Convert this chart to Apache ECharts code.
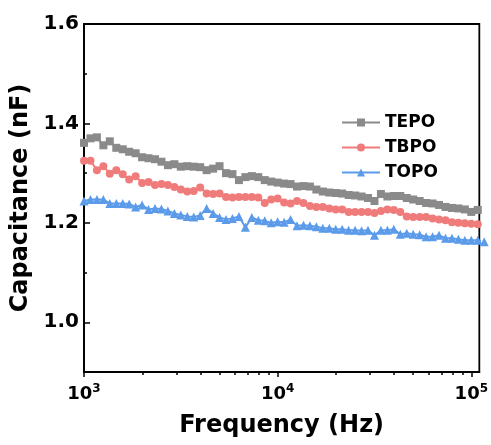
<!DOCTYPE html>
<html><head><meta charset="utf-8">
<script src="https://cdn.jsdelivr.net/npm/echarts@6/dist/echarts.min.js"></script>
<style>html,body{margin:0;padding:0;background:#fff}#c{width:491px;height:445px}</style>
</head><body><div id="c"></div>
<script>
const freq = [1000,1080,1166,1259,1359,1468,1585,1711,1848,1995,2154,2326,2512,2712,2929,3162,3415,3687,3981,4299,4642,5012,5412,5843,6310,6813,7356,7943,8577,9261,10000,10798,11659,12589,13594,14678,15849,17113,18478,19953,21544,23263,25119,27123,29286,31623,34145,36869,39811,42987,46416,50119,54117,58434,63096,68129,73564,79433,85770,92612,100000,107980,116590];
const tepo = [1.361,1.370,1.372,1.356,1.364,1.351,1.348,1.343,1.340,1.332,1.330,1.328,1.323,1.316,1.318,1.313,1.314,1.313,1.312,1.306,1.309,1.314,1.300,1.298,1.286,1.292,1.294,1.292,1.286,1.283,1.281,1.279,1.278,1.273,1.274,1.273,1.267,1.263,1.261,1.260,1.259,1.256,1.255,1.253,1.250,1.244,1.258,1.253,1.254,1.254,1.250,1.247,1.244,1.240,1.239,1.236,1.232,1.230,1.229,1.227,1.222,1.226];
const tbpo = [1.325,1.325,1.306,1.314,1.299,1.306,1.298,1.287,1.294,1.280,1.282,1.276,1.278,1.276,1.272,1.267,1.263,1.264,1.271,1.259,1.258,1.259,1.252,1.251,1.252,1.252,1.252,1.251,1.240,1.247,1.249,1.241,1.239,1.244,1.240,1.234,1.232,1.232,1.229,1.227,1.227,1.222,1.222,1.222,1.222,1.220,1.224,1.227,1.226,1.222,1.213,1.212,1.212,1.212,1.209,1.207,1.205,1.201,1.200,1.199,1.198,1.197];
const topo = [1.244,1.247,1.247,1.247,1.239,1.239,1.239,1.238,1.232,1.236,1.227,1.229,1.228,1.224,1.219,1.216,1.213,1.212,1.215,1.229,1.219,1.211,1.207,1.209,1.213,1.191,1.211,1.205,1.204,1.200,1.202,1.201,1.207,1.194,1.195,1.194,1.192,1.189,1.189,1.187,1.187,1.185,1.185,1.184,1.185,1.175,1.185,1.185,1.187,1.177,1.179,1.177,1.176,1.172,1.172,1.175,1.169,1.169,1.167,1.165,1.165,1.165,1.162];
const seriesNames = ['TEPO','TBPO','TOPO'];
const xMajorTicks = [1000,10000,100000];
const xMinorTicks = [2000,3000,4000,5000,6000,7000,8000,9000,20000,30000,40000,50000,60000,70000,80000,90000];
const yMajorTicks = [1.0,1.2,1.4,1.6];
const yMinorTicks = [1.1,1.3,1.5];

const FONT = 'DejaVu Sans';
const pairs = arr => arr.map((v,i)=>[freq[i], v]);
const chart = echarts.init(document.getElementById('c'), null, {renderer:'canvas'});
const lineAxis = {show:true, lineStyle:{color:'#000', width:1.8}};
chart.setOption({
  animation:false,
  backgroundColor:'#fff',
  grid:{left:84, right:10, top:24, bottom:73, show:true, borderColor:'#000', borderWidth:1.8, backgroundColor:'transparent'},
  legend:{
    orient:'vertical', left:336, top:109, itemWidth:38, itemHeight:10, itemGap:8,
    data:seriesNames,
    textStyle:{fontFamily:FONT, fontWeight:'bold', fontSize:17, color:'#000', lineHeight:17}
  },
  xAxis:[{
    type:'log', logBase:10, min:1000, max:110000,
    axisLine:lineAxis, splitLine:{show:false},
    axisTick:{show:true, inside:false, length:5, lineStyle:{color:'#000', width:1.5}, customValues:xMajorTicks},
    axisLabel:{margin:11, customValues:xMajorTicks,
      formatter: v => '{b|10}{s|' + Math.round(Math.log10(v)) + '}',
      rich:{b:{fontFamily:FONT, fontWeight:'bold', fontSize:18, color:'#000'},
            s:{fontFamily:FONT, fontWeight:'bold', fontSize:12, color:'#000', padding:[0,0,10,0]}}},
    name:'Frequency (Hz)', nameLocation:'middle', nameGap:42,
    nameTextStyle:{fontFamily:FONT, fontWeight:'bold', fontSize:24, color:'#000'}
  },{
    type:'log', logBase:10, min:1000, max:110000, position:'bottom',
    axisLine:{show:false}, splitLine:{show:false}, axisLabel:{show:false},
    axisTick:{show:true, inside:false, length:3, lineStyle:{color:'#000', width:1.5}, customValues:xMinorTicks}
  }],
  yAxis:[{
    type:'value', min:0.9, max:1.6,
    axisLine:lineAxis, splitLine:{show:false},
    axisTick:{show:true, inside:true, length:6, lineStyle:{color:'#000', width:1.5}, customValues:yMajorTicks},
    axisLabel:{margin:5, customValues:yMajorTicks, formatter: v => v.toFixed(1),
      fontFamily:FONT, fontWeight:'bold', fontSize:20, color:'#000'},
    name:'Capacitance (nF)', nameLocation:'middle', nameGap:47,
    nameTextStyle:{fontFamily:FONT, fontWeight:'bold', fontSize:24, color:'#000'}
  },{
    type:'value', min:0.9, max:1.6, position:'left',
    axisLine:{show:false}, splitLine:{show:false}, axisLabel:{show:false},
    axisTick:{show:true, inside:true, length:3, lineStyle:{color:'#000', width:1.5}, customValues:yMinorTicks}
  }],
  series:[
    {name:'TEPO', type:'line', data:pairs(tepo), symbol:'rect', symbolSize:8, clip:false,
     itemStyle:{color:'#8a8a8a'}, lineStyle:{color:'#8a8a8a', width:2}},
    {name:'TBPO', type:'line', data:pairs(tbpo), symbol:'circle', symbolSize:8, clip:false,
     itemStyle:{color:'#f07b7b'}, lineStyle:{color:'#f07b7b', width:2}},
    {name:'TOPO', type:'line', data:pairs(topo), symbol:'triangle', symbolSize:9, clip:false,
     itemStyle:{color:'#5b9bea'}, lineStyle:{color:'#5b9bea', width:2}}
  ]
});
</script></body></html>
